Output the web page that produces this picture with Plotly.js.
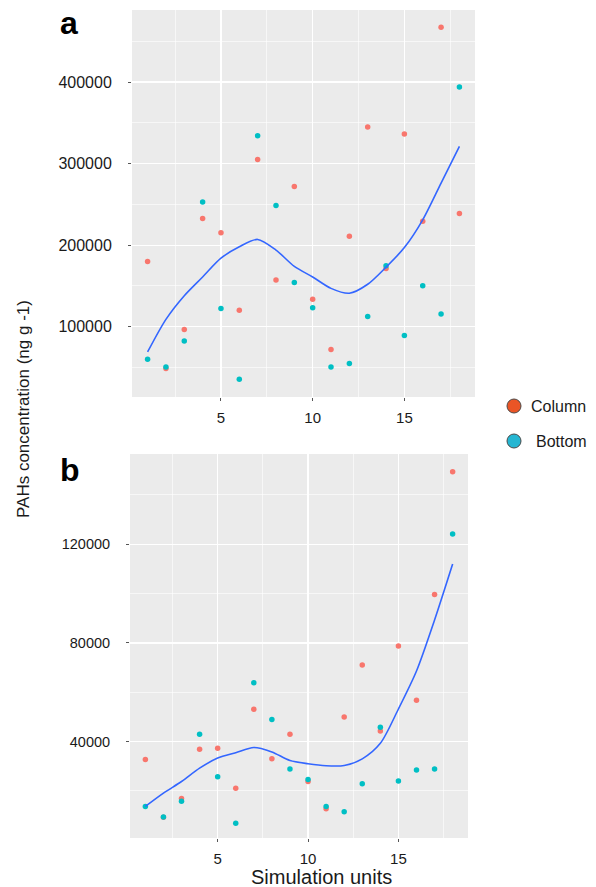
<!DOCTYPE html>
<html>
<head>
<meta charset="utf-8">
<script src="https://cdn.plot.ly/plotly-3.0.1.min.js"></script>
<style>html,body{margin:0;padding:0;background:#fff;}#chart{width:596px;height:887px;}</style>
</head>
<body>
<div id="chart"></div>
<script>
// ---- data ----
const units = [1, 2, 3, 4, 5, 6, 7, 8, 9, 10, 11, 12, 13, 14, 15, 16, 17, 18];

// panel a
const columnA = [180000, 48700, 96500, 232700, 215100, 120200, 305100, 157400, 272000, 133700, 72000, 211000, 344800, 171400, 336200, 229400, 467100, 238900];
const bottomA = [60100, 50700, 82600, 252800, 122300, 35600, 334100, 248700, 154200, 123100, 50700, 54800, 112500, 174600, 89200, 150100, 115700, 393900];
const smoothA = [69000, 109000, 138000, 161000, 184000, 198000, 207000, 194000, 174000, 161000, 147000, 141000, 152000, 173000, 197000, 231000, 276000, 321000];

// panel b
const columnB = [32700, 9300, 16900, 36900, 37300, 21100, 53100, 33000, 43000, 23800, 12800, 50000, 71000, 44300, 78800, 56800, 99600, 149400];
const bottomB = [13700, 9400, 15800, 43000, 25700, 6900, 63800, 48900, 28900, 24600, 13700, 11500, 22900, 45800, 24000, 28500, 28900, 124200];
const smoothB = [13700, 19100, 23800, 29200, 33300, 35500, 37600, 35800, 32300, 31000, 30200, 30300, 33000, 39300, 53200, 68600, 89300, 112000];

// ticks
const xTicks = [5, 10, 15];
const xTickText = ['5', '10', '15'];
const xMinor = [2.5, 7.5, 12.5, 17.5];
const yTicksA = [100000, 200000, 300000, 400000];
const yTickTextA = ['100000', '200000', '300000', '400000'];
const yMinorA = [50000, 150000, 250000, 350000, 450000];
const yTicksB = [40000, 80000, 120000];
const yTickTextB = ['40000', '80000', '120000'];
const yMinorB = [20000, 60000, 100000, 140000];

const seriesNames = ['Column', 'Bottom'];
const panelLabels = ['a', 'b'];
const yTitle = 'PAHs concentration (ng g -1)';
const xTitle = 'Simulation units';

// ---- styling ----
const FONT = '"Liberation Sans", Arial, Helvetica, sans-serif';
const RED = '#F8766D', TEAL = '#00BFC4', LINE = '#3366FF';
const W = 596, H = 887;
const px = v => v / W;
const py = v => 1 - v / H;

function pts(x, y, color, xa, ya) {
  return {x: x, y: y, type: 'scatter', mode: 'markers', xaxis: xa, yaxis: ya,
    marker: {color: color, size: 5.5}, showlegend: false, hoverinfo: 'skip'};
}
function fit(x, y, xa, ya) {
  return {x: x, y: y, type: 'scatter', mode: 'lines', xaxis: xa, yaxis: ya,
    line: {color: LINE, width: 1.6, shape: 'spline', smoothing: 0.8}, showlegend: false, hoverinfo: 'skip'};
}

const traces = [
  pts(units, columnA, RED, 'x', 'y'),
  pts(units, bottomA, TEAL, 'x', 'y'),
  fit(units, smoothA, 'x', 'y'),
  pts(units, columnB, RED, 'x2', 'y2'),
  pts(units, bottomB, TEAL, 'x2', 'y2'),
  fit(units, smoothB, 'x2', 'y2')
];

function xAxis(domain, anchor) {
  return {domain: domain, anchor: anchor, range: [0.15, 18.85],
    tickvals: xTicks, ticktext: xTickText, ticks: 'outside', ticklen: 3, tickwidth: 1, tickcolor: '#555',
    ticklabelstandoff: 4,
    showgrid: true, gridcolor: '#FFFFFF', gridwidth: 1.2, zeroline: false, showline: false,
    minor: {tickvals: xMinor, showgrid: true, gridcolor: '#FFFFFF', gridwidth: 0.6, ticks: ''},
    tickfont: {family: FONT, size: 15, color: '#1a1a1a'}, fixedrange: true};
}
function yAxis(domain, anchor, range, tv, tt, mv, fs) {
  return {domain: domain, anchor: anchor, range: range,
    tickvals: tv, ticktext: tt, ticks: 'outside', ticklen: 3, tickwidth: 1, tickcolor: '#555',
    ticklabelstandoff: 13,
    showgrid: true, gridcolor: '#FFFFFF', gridwidth: 1.2, zeroline: false, showline: false,
    minor: {tickvals: mv, showgrid: true, gridcolor: '#FFFFFF', gridwidth: 0.6, ticks: ''},
    tickfont: {family: FONT, size: fs, color: '#1a1a1a'}, fixedrange: true};
}

const layout = {
  width: W, height: H,
  margin: {l: 0, r: 0, t: 0, b: 0},
  paper_bgcolor: '#FFFFFF', plot_bgcolor: '#EBEBEB',
  showlegend: false,
  xaxis: xAxis([px(132), px(475)], 'y'),
  yaxis: yAxis([py(397), py(10)], 'x', [13800, 488300], yTicksA, yTickTextA, yMinorA, 16),
  xaxis2: xAxis([px(130), px(468)], 'y2'),
  yaxis2: yAxis([py(838), py(454)], 'x2', [900, 156600], yTicksB, yTickTextB, yMinorB, 14.5),
  shapes: [
    {type: 'circle', xref: 'paper', yref: 'paper', x0: px(507), x1: px(521), y0: py(413), y1: py(399),
      fillcolor: '#EA5526', line: {color: '#4a4a4a', width: 1}},
    {type: 'circle', xref: 'paper', yref: 'paper', x0: px(507), x1: px(521), y0: py(448), y1: py(434),
      fillcolor: '#25B6D2', line: {color: '#4a4a4a', width: 1}}
  ],
  annotations: [
    {text: '<b>' + panelLabels[0] + '</b>', xref: 'paper', yref: 'paper', x: px(69), y: py(23),
      xanchor: 'center', yanchor: 'middle', showarrow: false, font: {family: FONT, size: 32, color: '#000'}},
    {text: '<b>' + panelLabels[1] + '</b>', xref: 'paper', yref: 'paper', x: px(70), y: py(470),
      xanchor: 'center', yanchor: 'middle', showarrow: false, font: {family: FONT, size: 32, color: '#000'}},
    {text: yTitle, xref: 'paper', yref: 'paper', x: px(23), y: py(409), textangle: -90,
      xanchor: 'center', yanchor: 'middle', showarrow: false, font: {family: FONT, size: 17, color: '#1a1a1a'}},
    {text: xTitle, xref: 'paper', yref: 'paper', x: px(321), y: py(877),
      xanchor: 'center', yanchor: 'middle', showarrow: false, font: {family: FONT, size: 20, color: '#1a1a1a'}},
    {text: seriesNames[0], xref: 'paper', yref: 'paper', x: px(529), y: py(406),
      xanchor: 'left', yanchor: 'middle', showarrow: false, font: {family: FONT, size: 16, color: '#1a1a1a'}},
    {text: seriesNames[1], xref: 'paper', yref: 'paper', x: px(534), y: py(441),
      xanchor: 'left', yanchor: 'middle', showarrow: false, font: {family: FONT, size: 16, color: '#1a1a1a'}}
  ]
};

Plotly.newPlot('chart', traces, layout, {displayModeBar: false, staticPlot: true});
</script>
</body>
</html>
